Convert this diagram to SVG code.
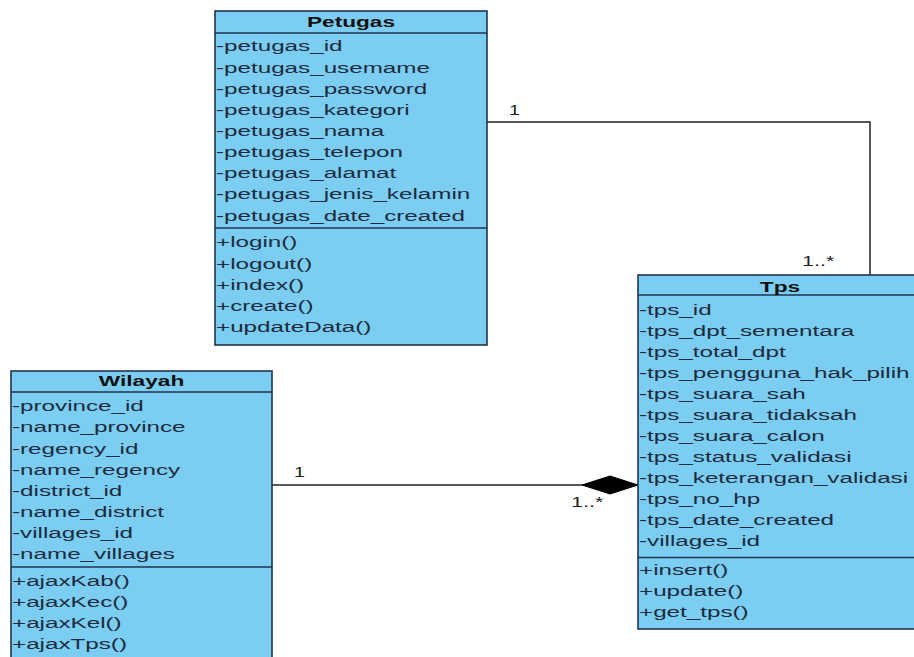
<svg xmlns="http://www.w3.org/2000/svg" width="914" height="657" viewBox="0 0 914 657">
<style>
.box{fill:#7BCDF1;stroke:#1E3550;stroke-width:1.6}
.sep{stroke:#1E3550;stroke-width:1.6}
.t{font-family:"Liberation Sans",Arial,sans-serif;font-size:14px;fill:#1B2C40}
.h{font-family:"Liberation Sans",Arial,sans-serif;font-size:14px;font-weight:bold;fill:#111;text-anchor:middle}
.lbl{font-family:"Liberation Sans",Arial,sans-serif;font-size:14px;fill:#222}
.conn{fill:none;stroke:#222;stroke-width:1.5}
</style>
<rect width="914" height="657" fill="#fff"/>
<g id="connectors">
<polyline class="conn" points="487,122 870,122 870,275"/>
<line class="conn" x1="272" y1="485" x2="584" y2="485"/>
<polygon points="582,485 610,476 638,485 610,494" fill="#000" stroke="#000" stroke-width="1"/>
<text class="lbl" transform="translate(509,115) scale(1.4,1)">1</text>
<text class="lbl" transform="translate(802,266) scale(1.55,1)">1..*</text>
<text class="lbl" transform="translate(294,477) scale(1.4,1)">1</text>
<text class="lbl" transform="translate(571,507) scale(1.55,1)">1..*</text>
</g>
<g id="Petugas">
<rect class="box" x="215" y="11" width="272" height="334"/>
<line class="sep" x1="215" y1="33" x2="487" y2="33"/>
<line class="sep" x1="215" y1="228" x2="487" y2="228"/>
<text class="h" transform="translate(351,27) scale(1.62,1)">Petugas</text>
<g transform="translate(216,0) scale(1.73,1)" class="t">
<text class="t" x="0" y="51.5">-petugas_id</text>
<text class="t" x="0" y="72.6">-petugas_usemame</text>
<text class="t" x="0" y="93.8">-petugas_password</text>
<text class="t" x="0" y="114.9">-petugas_kategori</text>
<text class="t" x="0" y="136">-petugas_nama</text>
<text class="t" x="0" y="157.2">-petugas_telepon</text>
<text class="t" x="0" y="178.3">-petugas_alamat</text>
<text class="t" x="0" y="199.5">-petugas_jenis_kelamin</text>
<text class="t" x="0" y="220.6">-petugas_date_created</text>
<text class="t" x="0" y="247.5">+login()</text>
<text class="t" x="0" y="268.6">+logout()</text>
<text class="t" x="0" y="289.8">+index()</text>
<text class="t" x="0" y="310.9">+create()</text>
<text class="t" x="0" y="332">+updateData()</text>
</g>
</g>
<g id="Wilayah">
<rect class="box" x="11" y="371" width="261" height="300"/>
<line class="sep" x1="11" y1="392" x2="272" y2="392"/>
<line class="sep" x1="11" y1="567" x2="272" y2="567"/>
<text class="h" transform="translate(141.5,386) scale(1.62,1)">Wilayah</text>
<g transform="translate(12,0) scale(1.73,1)">
<text class="t" x="0" y="411.5">-province_id</text>
<text class="t" x="0" y="432.5">-name_province</text>
<text class="t" x="0" y="453.6">-regency_id</text>
<text class="t" x="0" y="474.6">-name_regency</text>
<text class="t" x="0" y="495.7">-district_id</text>
<text class="t" x="0" y="516.7">-name_district</text>
<text class="t" x="0" y="537.8">-villages_id</text>
<text class="t" x="0" y="558.8">-name_villages</text>
<text class="t" x="0" y="586.5">+ajaxKab()</text>
<text class="t" x="0" y="607.5">+ajaxKec()</text>
<text class="t" x="0" y="628.5">+ajaxKel()</text>
<text class="t" x="0" y="649.5">+ajaxTps()</text>
</g>
</g>
<g id="Tps">
<rect class="box" x="638" y="275" width="290" height="354"/>
<line class="sep" x1="638" y1="295" x2="928" y2="295"/>
<line class="sep" x1="638" y1="557.5" x2="928" y2="557.5"/>
<text class="h" transform="translate(780,291.5) scale(1.62,1)">Tps</text>
<g transform="translate(639,0) scale(1.73,1)">
<text class="t" x="0" y="314.8">-tps_id</text>
<text class="t" x="0" y="335.9">-tps_dpt_sementara</text>
<text class="t" x="0" y="356.9">-tps_total_dpt</text>
<text class="t" x="0" y="378">-tps_pengguna_hak_pilih</text>
<text class="t" x="0" y="399">-tps_suara_sah</text>
<text class="t" x="0" y="420.1">-tps_suara_tidaksah</text>
<text class="t" x="0" y="441.2">-tps_suara_calon</text>
<text class="t" x="0" y="462.2">-tps_status_validasi</text>
<text class="t" x="0" y="483.3">-tps_keterangan_validasi</text>
<text class="t" x="0" y="504.3">-tps_no_hp</text>
<text class="t" x="0" y="525.4">-tps_date_created</text>
<text class="t" x="0" y="546.5">-villages_id</text>
<text class="t" x="0" y="574.8">+insert()</text>
<text class="t" x="0" y="595.9">+update()</text>
<text class="t" x="0" y="616.9">+get_tps()</text>
</g>
</g>
</svg>
